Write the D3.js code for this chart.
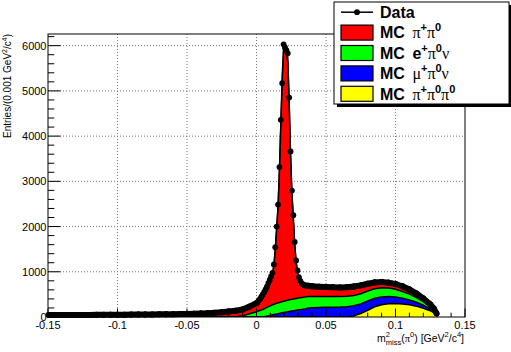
<!DOCTYPE html>
<html>
<head>
<meta charset="utf-8">
<script src="https://cdn.jsdelivr.net/npm/d3@7"></script>
<style>
body { margin: 0; background: #fff; }
svg { display: block; }
</style>
</head>
<body>
<div id="chart"></div>
<script>
// bin centres (GeV^2/c^4), fine binning only where the peak is
var binX = [
  -0.1495, -0.145, -0.14, -0.135, -0.13, -0.125, -0.12, -0.115, -0.11, -0.105,
  -0.1, -0.095, -0.09, -0.085, -0.08, -0.075, -0.07, -0.065, -0.06, -0.055,
  -0.05, -0.045, -0.04, -0.035, -0.03, -0.025, -0.02, -0.015, -0.01, -0.005,
  0.0005, 0.0015, 0.0025, 0.0035, 0.0045, 0.0055, 0.0065, 0.0075, 0.0085, 0.0095,
  0.0105, 0.0115, 0.0125, 0.0135, 0.0145, 0.0155, 0.0165, 0.0175, 0.0185, 0.0195,
  0.0205, 0.0215, 0.0225, 0.0235, 0.0245, 0.0255, 0.0265, 0.0275, 0.0285, 0.0295,
  0.0305, 0.0315, 0.0325, 0.0335, 0.0345,
  0.037, 0.04, 0.045, 0.05, 0.055, 0.06, 0.065, 0.07, 0.075, 0.08,
  0.085, 0.09, 0.095, 0.1, 0.105, 0.11, 0.115, 0.12, 0.125, 0.1275, 0.1295
];

var dataCounts = [
  44, 42, 45, 43, 44, 46, 45, 47, 48, 50,
  52, 51, 53, 55, 56, 58, 60, 61, 63, 65,
  68, 72, 77, 83, 92, 105, 122, 140, 165, 230,
  320, 360, 400, 450, 500, 550, 610, 670, 750, 820,
  900, 977, 1162, 1544, 2000, 2486, 3316, 4361, 5169, 6030,
  5960, 5900, 5831, 4853, 3662, 2795, 2250, 1661, 1251, 1030,
  880, 800, 750, 720, 700,
  690, 680, 670, 665, 660, 655, 660, 675, 700, 735,
  765, 775, 760, 730, 680, 610, 520, 410, 280, 190, 80
];

// MC K+ -> pi+ pi0 pi0 (yellow, bottom of the stack)
var mcPi3 = [
  0, 0, 0, 0, 0, 0, 0, 0, 0, 0,
  0, 0, 0, 0, 0, 0, 0, 0, 0, 0,
  0, 0, 0, 0, 0, 0, 0, 0, 0, 0,
  0, 0, 0, 0, 0, 0, 0, 0, 0, 0,
  0, 0, 0, 0, 0, 0, 0, 0, 0, 0,
  0, 0, 0, 0, 0, 0, 0, 0, 0, 0,
  0, 0, 0, 0, 0,
  0, 0, 0, 0, 0, 0, 5, 25, 75, 150,
  225, 270, 295, 300, 290, 270, 240, 195, 140, 95, 35
];

// MC K+ -> mu+ pi0 nu (blue)
var mcMu3 = [
  0, 0, 0, 0, 0, 0, 0, 0, 0, 0,
  0, 0, 0, 0, 0, 0, 0, 0, 0, 0,
  0, 0, 0, 0, 0, 0, 0, 0, 0, 0,
  0, 0, 0, 0, 3, 8, 14, 20, 28, 35,
  42, 50, 56, 62, 68, 74, 80, 86, 92, 98,
  104, 110, 116, 122, 128, 133, 138, 143, 148, 153,
  158, 162, 166, 170, 174,
  200, 205, 210, 215, 218, 220, 222, 222, 215, 205,
  190, 175, 160, 145, 125, 105, 85, 65, 40, 25, 10
];

// MC K+ -> e+ pi0 nu (green)
var mcE3 = [
  0, 0, 0, 0, 0, 0, 0, 0, 0, 0,
  0, 0, 0, 0, 0, 0, 0, 0, 0, 0,
  0, 0, 0, 0, 0, 0, 2, 8, 25, 70,
  120, 135, 145, 155, 165, 175, 183, 192, 200, 207,
  213, 220, 225, 230, 235, 238, 242, 245, 248, 250,
  252, 254, 256, 258, 259, 260, 261, 262, 263, 264,
  265, 266, 266, 267, 267,
  255, 250, 245, 240, 236, 232, 230, 228, 225, 220,
  210, 200, 185, 170, 150, 130, 105, 80, 55, 35, 15
];

// MC K+ -> pi+ pi0 (red, top of the stack)
var mcPiPi = [
  40, 39, 40, 40, 41, 42, 42, 43, 44, 45,
  47, 48, 49, 51, 52, 54, 55, 57, 59, 61,
  63, 66, 71, 77, 85, 97, 110, 125, 130, 145,
  180, 205, 235, 270, 310, 345, 390, 435, 500, 555,
  620, 680, 840, 1200, 1640, 2120, 2900, 3900, 5000, 5560,
  5560, 5500, 5250, 4350, 3200, 2300, 1750, 1180, 790, 560,
  420, 330, 280, 245, 220,
  200, 190, 180, 175, 170, 165, 160, 158, 155, 150,
  145, 135, 125, 115, 100, 85, 70, 55, 35, 22, 10
];

var xTicks = [-0.15, -0.1, -0.05, 0, 0.05, 0.1, 0.15];
var xTickLabels = ["-0.15", "-0.1", "-0.05", "0", "0.05", "0.1", "0.15"];
var yTicks = [0, 1000, 2000, 3000, 4000, 5000, 6000];
var yTickLabels = ["0", "1000", "2000", "3000", "4000", "5000", "6000"];
var stackKeys = ["pi3", "mu3", "e3", "pipi"];
var stackColors = {pi3: "#ffff00", mu3: "#0000ff", e3: "#00ff00", pipi: "#ff0000"};

var W = 511, H = 352;
var fLeft = 48, fRight = 465, fTop = 34, fBottom = 317;
var sans = "'Liberation Sans', Arial, Helvetica, sans-serif";
var serif = "'Liberation Serif', 'Times New Roman', serif";

var svg = d3.select("#chart").append("svg")
  .attr("width", W)
  .attr("height", H);

svg.append("rect").attr("width", W).attr("height", H).attr("fill", "#fff");

var x = d3.scaleLinear().domain([-0.15, 0.15]).range([fLeft, fRight]);
var y = d3.scaleLinear().domain([0, 6258]).range([fBottom, fTop]);

svg.append("clipPath").attr("id", "frameClip")
  .append("rect")
  .attr("x", fLeft).attr("y", fTop)
  .attr("width", fRight - fLeft).attr("height", fBottom - fTop);

// dotted grid
var grid = svg.append("g");
xTicks.slice(1, -1).forEach(function (t) {
  grid.append("line")
    .attr("x1", x(t)).attr("x2", x(t))
    .attr("y1", fTop).attr("y2", fBottom)
    .attr("stroke", "#777").attr("stroke-dasharray", "1,2");
});
yTicks.slice(1).forEach(function (t) {
  grid.append("line")
    .attr("x1", fLeft).attr("x2", fRight)
    .attr("y1", y(t)).attr("y2", y(t))
    .attr("stroke", "#777").attr("stroke-dasharray", "1,2");
});

// MC stack
var rows = binX.map(function (bx, i) {
  return {x: bx, pi3: mcPi3[i], mu3: mcMu3[i], e3: mcE3[i], pipi: mcPiPi[i]};
});
var layers = d3.stack().keys(stackKeys)(rows);

var area = d3.area()
  .x(function (d) { return x(d.data.x); })
  .y0(function (d) { return y(d[0]); })
  .y1(function (d) { return y(d[1]); });
var topLine = d3.line()
  .x(function (d) { return x(d.data.x); })
  .y(function (d) { return y(d[1]); });

var mc = svg.append("g").attr("clip-path", "url(#frameClip)");
layers.forEach(function (layer) {
  mc.append("path")
    .attr("d", area(layer))
    .attr("fill", stackColors[layer.key]);
});
layers.forEach(function (layer) {
  mc.append("path")
    .attr("d", topLine(layer))
    .attr("fill", "none")
    .attr("stroke", "#000")
    .attr("stroke-width", 1.5);
});

// data: thick where points are sparse, markers everywhere
var pts = binX.map(function (bx, i) { return [x(bx), y(dataCounts[i])]; });
var dataG = svg.append("g");
d3.pairs(pts).forEach(function (p, i) {
  var wide = binX[i + 1] - binX[i] > 0.0015;
  dataG.append("line")
    .attr("x1", p[0][0]).attr("y1", p[0][1])
    .attr("x2", p[1][0]).attr("y2", p[1][1])
    .attr("stroke", "#000")
    .attr("stroke-width", wide ? 6 : 1.2)
    .attr("stroke-linecap", "round");
});
dataG.selectAll("circle").data(pts).enter().append("circle")
  .attr("cx", function (d) { return d[0]; })
  .attr("cy", function (d) { return d[1]; })
  .attr("r", 2.9)
  .attr("fill", "#000");

// frame and ticks (ROOT style: ticks inside)
svg.append("rect")
  .attr("x", fLeft).attr("y", fTop)
  .attr("width", fRight - fLeft).attr("height", fBottom - fTop)
  .attr("fill", "none").attr("stroke", "#000").attr("stroke-width", 1);

var ticks = svg.append("g").attr("stroke", "#000").attr("stroke-width", 1);
d3.range(-15, 16, 1).forEach(function (k) {
  var major = k % 5 === 0;
  ticks.append("line")
    .attr("x1", x(k / 100)).attr("x2", x(k / 100))
    .attr("y1", fBottom).attr("y2", fBottom - (major ? 8.5 : 4.3));
});
d3.range(0, 6201, 200).forEach(function (t) {
  var major = t % 1000 === 0;
  ticks.append("line")
    .attr("x1", fLeft).attr("x2", fLeft + (major ? 12.5 : 6.3))
    .attr("y1", y(t)).attr("y2", y(t));
});

svg.append("g").selectAll("text").data(xTicks).enter().append("text")
  .attr("x", function (d) { return x(d); })
  .attr("y", 328.5)
  .attr("text-anchor", "middle")
  .style("font-family", sans).style("font-size", "11px")
  .text(function (d, i) { return xTickLabels[i]; });

svg.append("g").selectAll("text").data(yTicks).enter().append("text")
  .attr("x", 46.5)
  .attr("y", function (d) { return y(d) + 4; })
  .attr("text-anchor", "end")
  .style("font-family", sans).style("font-size", "11px")
  .text(function (d, i) { return yTickLabels[i]; });

// text made of runs (super/subscripts, greek)
function rich(parent, runs, px, py, anchor) {
  var g = parent.append("g");
  var cx = 0;
  runs.forEach(function (r) {
    var t = g.append("text")
      .attr("x", cx).attr("y", r.dy || 0)
      .style("font-family", r.family || sans)
      .style("font-size", r.size + "px")
      .style("font-weight", r.bold ? "bold" : "normal")
      .style("white-space", "pre")
      .text(r.text);
    if (!r.keep) cx += t.node().getComputedTextLength() + (r.gap || 0);
  });
  g.attr("transform", "translate(" + (anchor === "end" ? px - cx : px) + "," + py + ")");
  return g;
}

// axis titles
rich(svg, [
  {text: "m", size: 10.5},
  {text: "2", size: 7.5, dy: -5, keep: true},
  {text: "miss", size: 7.5, dy: 3},
  {text: "(", size: 10.5},
  {text: "\u03c0", size: 10.5, family: serif},
  {text: "0", size: 7.5, dy: -5},
  {text: ")\u00a0[GeV", size: 10.5},
  {text: "2", size: 7.5, dy: -5},
  {text: "/c", size: 10.5},
  {text: "4", size: 7.5, dy: -5},
  {text: "]", size: 10.5}
], 464, 342, "end");

var yTitle = svg.append("g").attr("transform", "translate(11," + fTop + ") rotate(-90)");
rich(yTitle, [
  {text: "Entries/(0.001\u00a0GeV", size: 10},
  {text: "2", size: 7, dy: -4.5},
  {text: "/c", size: 10},
  {text: "4", size: 7, dy: -4.5},
  {text: ")", size: 10}
], 0, 0, "end");

// legend
var lx = 334, ly = 2, lw = 175, lh = 102;
svg.append("rect").attr("x", lx + 3).attr("y", ly + 3).attr("width", lw).attr("height", lh).attr("fill", "#000");
svg.append("rect").attr("x", lx).attr("y", ly).attr("width", lw).attr("height", lh)
  .attr("fill", "#fff").attr("stroke", "#000").attr("stroke-width", 1);

var rowH = lh / 5;
var leg = svg.append("g");
var cy0 = ly + rowH / 2;
leg.append("line").attr("x1", 341).attr("x2", 373).attr("y1", cy0).attr("y2", cy0)
  .attr("stroke", "#000").attr("stroke-width", 1.5);
leg.append("circle").attr("cx", 357).attr("cy", cy0).attr("r", 2.9).attr("fill", "#000");

var mcWord = {text: "MC", size: 16, bold: true, gap: 7.5};
var legendRuns = [
  [{text: "Data", size: 16, bold: true}],
  [mcWord, {text: "\u03c0", size: 16, family: serif},
   {text: "+", size: 11, bold: true, dy: -7}, {text: "\u03c0", size: 16, family: serif},
   {text: "0", size: 11, bold: true, dy: -7}],
  [mcWord, {text: "e", size: 16, bold: true},
   {text: "+", size: 11, bold: true, dy: -7}, {text: "\u03c0", size: 16, family: serif},
   {text: "0", size: 11, bold: true, dy: -7}, {text: "\u03bd", size: 16, family: serif}],
  [mcWord, {text: "\u03bc", size: 16, family: serif},
   {text: "+", size: 11, bold: true, dy: -7}, {text: "\u03c0", size: 16, family: serif},
   {text: "0", size: 11, bold: true, dy: -7}, {text: "\u03bd", size: 16, family: serif}],
  [mcWord, {text: "\u03c0", size: 16, family: serif},
   {text: "+", size: 11, bold: true, dy: -7}, {text: "\u03c0", size: 16, family: serif},
   {text: "0", size: 11, bold: true, dy: -7}, {text: "\u03c0", size: 16, family: serif},
   {text: "0", size: 11, bold: true, dy: -7}]
];
var legendColors = [null, "#ff0000", "#00ff00", "#0000ff", "#ffff00"];

legendRuns.forEach(function (runs, i) {
  var cy = ly + rowH * (i + 0.5);
  if (legendColors[i]) {
    leg.append("rect")
      .attr("x", 341).attr("y", cy - 7.5).attr("width", 32).attr("height", 15)
      .attr("fill", legendColors[i]).attr("stroke", "#000").attr("stroke-width", 1.2);
  }
  rich(leg, runs, 380, cy + 5.8, "start");
});
</script>
</body>
</html>
